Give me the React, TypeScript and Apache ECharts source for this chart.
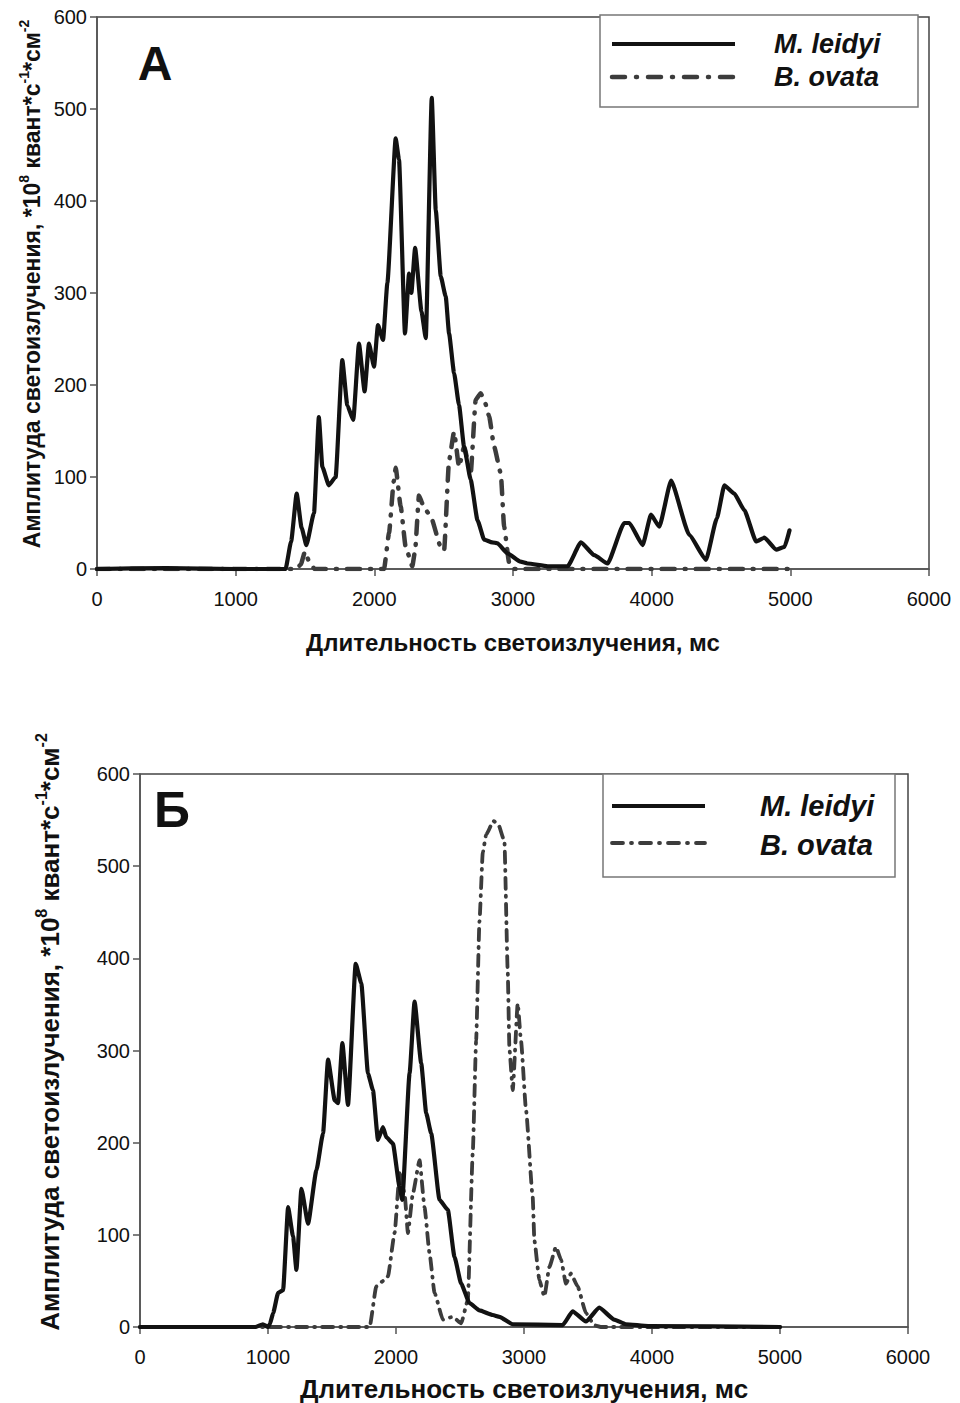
import React, { useEffect, useRef } from "react";
import * as echarts from "echarts";

const FONT = "'Liberation Sans', Arial, sans-serif";

const seriesNames = ["M. leidyi", "B. ovata"];
const panelLabels = ["А", "Б"];
const xTitle = "Длительность светоизлучения, мс";

// Panel A (top)
const topLeidyiX = [0, 500, 1000, 1360, 1400, 1440, 1475, 1510, 1565, 1600, 1625, 1672, 1721, 1769, 1805, 1848, 1889, 1930, 1961, 1998, 2026, 2063, 2094, 2154, 2178, 2221, 2250, 2267, 2294, 2340, 2371, 2414, 2443, 2479, 2515, 2539, 2575, 2611, 2647, 2695, 2744, 2792, 2850, 2888, 2960, 3054, 3105, 3250, 3394, 3490, 3586, 3682, 3802, 3839, 3935, 3995, 4055, 4140, 4271, 4392, 4470, 4524, 4596, 4668, 4753, 4813, 4898, 4958, 4994];
const topLeidyiY = [0, 1, 0, 0, 30, 82, 45, 26, 61, 165, 111, 91, 100, 227, 178, 162, 245, 193, 245, 220, 265, 249, 311, 468, 445, 256, 321, 300, 349, 280, 251, 512, 390, 318, 296, 256, 213, 178, 133, 97, 53, 32, 29, 28, 17, 8, 6, 3, 3, 29, 15, 6, 50, 50, 26, 59, 46, 96, 37, 10, 55, 91, 82, 64, 30, 34, 21, 24, 42];

const topOvataX = [0, 1440, 1470, 1500, 1530, 1570, 2070, 2106, 2140, 2154, 2190, 2226, 2274, 2294, 2322, 2350, 2371, 2407, 2479, 2503, 2539, 2575, 2611, 2647, 2695, 2731, 2767, 2800, 2828, 2864, 2912, 2936, 2972, 3000, 5000];
const topOvataY = [0, 0, 5, 19, 8, 0, 0, 39, 95, 110, 68, 24, 3, 20, 80, 70, 64, 57, 24, 20, 118, 149, 111, 133, 104, 184, 191, 180, 166, 133, 104, 46, 7, 0, 0];

// Panel Б (bottom)
const botLeidyiX = [0, 900, 960, 1000, 1014, 1040, 1079, 1118, 1157, 1196, 1222, 1261, 1313, 1378, 1430, 1469, 1521, 1547, 1581, 1625, 1685, 1729, 1781, 1820, 1859, 1898, 1924, 1976, 2028, 2049, 2106, 2145, 2197, 2236, 2275, 2340, 2405, 2457, 2509, 2574, 2652, 2756, 2808, 2912, 3302, 3380, 3484, 3588, 3705, 3796, 3970, 5000];
const botLeidyiY = [0, 0, 3, 0, 3, 15, 37, 40, 130, 98, 62, 150, 112, 170, 210, 290, 246, 243, 308, 241, 394, 373, 275, 257, 203, 217, 206, 199, 152, 138, 275, 353, 286, 232, 210, 138, 127, 76, 47, 26, 18, 13, 11, 3, 2, 17, 6, 21, 8, 3, 1, 0];

const botOvataX = [0, 1794, 1846, 1900, 1937, 1989, 2028, 2067, 2093, 2132, 2184, 2223, 2262, 2301, 2366, 2444, 2509, 2561, 2600, 2626, 2652, 2678, 2704, 2761, 2800, 2847, 2873, 2886, 2912, 2951, 2977, 3016, 3068, 3081, 3120, 3159, 3198, 3250, 3289, 3328, 3367, 3419, 3484, 3549, 3600, 5000];
const botOvataY = [0, 0, 44, 50, 55, 102, 167, 145, 102, 145, 181, 130, 80, 37, 8, 11, 4, 29, 190, 311, 440, 515, 534, 549, 545, 527, 385, 302, 257, 351, 310, 235, 141, 94, 51, 33, 65, 87, 73, 47, 58, 44, 15, 2, 0, 0];

const zip = (xs: number[], ys: number[]) => xs.map((x, i) => [x, ys[i]]);

const SOLID = "#121212";
const DASHC = "#3c3c3c";

function makeAxes(gridIndex: number) {
  const lineStyle = { color: "#555", width: 1.5 };
  const xAxis = {
    type: "value",
    gridIndex,
    min: 0,
    max: 6000,
    interval: 1000,
    axisLine: { show: true, onZero: false, lineStyle },
    axisTick: { show: true, length: 7, lineStyle },
    axisLabel: { margin: 20, fontSize: 20, color: "#111", fontFamily: FONT, formatter: (v: number) => String(v) },
    splitLine: { show: false },
    name: xTitle,
    nameLocation: "middle",
    nameGap: gridIndex === 0 ? 61 : 49,
    nameTextStyle: { fontSize: gridIndex === 0 ? 24 : 26, fontWeight: "bold", color: "#111", fontFamily: FONT },
  };
  const yAxis = {
    type: "value",
    gridIndex,
    min: 0,
    max: 600,
    interval: 100,
    axisLine: { show: true, lineStyle },
    axisTick: { show: true, length: 7, lineStyle },
    axisLabel: { margin: 10, fontSize: 20, color: "#111", fontFamily: FONT },
    splitLine: { show: false },
  };
  return { xAxis, yAxis };
}

function yTitle(x: number, y: number, size: number) {
  const sup = Math.round(size * 0.6);
  return {
    type: "text",
    x,
    y,
    rotation: Math.PI / 2,
    style: {
      text: "{a|Амплитуда светоизлучения, *10}{s|8}{a| квант*с}{s|-1}{a|*см}{s|-2}",
      align: "center",
      verticalAlign: "middle",
      rich: {
        a: { fontSize: size, fontWeight: "bold", fontFamily: FONT, fill: "#111", lineHeight: size + 4, verticalAlign: "bottom" },
        s: { fontSize: sup, fontWeight: "bold", fontFamily: FONT, fill: "#111", lineHeight: sup, verticalAlign: "top" },
      },
    },
  };
}

function legendBox(
  x: number, y: number, w: number, h: number,
  lx1: number, lx2: number, ly1: number, ly2: number,
  tx: number, ty1: number, ty2: number, fs: number,
  dash: number[], dw: number, sw: number
) {
  return [
    { type: "rect", z: 50, shape: { x, y, width: w, height: h }, style: { fill: "#fff", stroke: "#777", lineWidth: 1.5 } },
    { type: "line", z: 51, shape: { x1: lx1, y1: ly1, x2: lx2, y2: ly1 }, style: { stroke: SOLID, lineWidth: sw } },
    { type: "line", z: 51, shape: { x1: lx1, y1: ly2, x2: lx2, y2: ly2 }, style: { stroke: DASHC, lineWidth: dw, lineDash: dash, lineCap: "round" } },
    { type: "text", z: 51, x: tx, y: ty1, style: { text: seriesNames[0], fontSize: fs, fontWeight: "bold", fontStyle: "italic", fontFamily: FONT, fill: "#111", align: "left", verticalAlign: "middle" } },
    { type: "text", z: 51, x: tx, y: ty2, style: { text: seriesNames[1], fontSize: fs, fontWeight: "bold", fontStyle: "italic", fontFamily: FONT, fill: "#111", align: "left", verticalAlign: "middle" } },
  ];
}

export default function App() {
  const ref = useRef<HTMLDivElement>(null);
  useEffect(() => {
    if (!ref.current) return;
    const chart = echarts.init(ref.current, null, { renderer: "svg" });
    const a0 = makeAxes(0);
    const a1 = makeAxes(1);
    const topDash = [13, 10, 1, 10];
    const botDash = [11, 7, 1, 7];
    chart.setOption({
      animation: false,
      backgroundColor: "#fff",
      grid: [
        { left: 97, top: 17, width: 832, height: 552, show: true, borderColor: "#444", borderWidth: 1.5, containLabel: false, outerBoundsMode: "none" },
        { left: 140, top: 774, width: 768, height: 553, show: true, borderColor: "#444", borderWidth: 1.5, containLabel: false, outerBoundsMode: "none" },
      ],
      xAxis: [a0.xAxis, a1.xAxis],
      yAxis: [a0.yAxis, a1.yAxis],
      series: [
        {
          name: seriesNames[0], type: "line", xAxisIndex: 0, yAxisIndex: 0, data: zip(topLeidyiX, topLeidyiY),
          symbol: "none", smooth: 0.15, smoothMonotone: "x",
          lineStyle: { color: SOLID, width: 4.2, join: "round", cap: "round" }, z: 3,
        },
        {
          name: seriesNames[1], type: "line", xAxisIndex: 0, yAxisIndex: 0, data: zip(topOvataX, topOvataY),
          symbol: "none", smooth: 0.15, smoothMonotone: "x",
          lineStyle: { color: DASHC, width: 4.5, type: topDash, cap: "round", join: "round" }, z: 2,
        },
        {
          name: seriesNames[0], type: "line", xAxisIndex: 1, yAxisIndex: 1, data: zip(botLeidyiX, botLeidyiY),
          symbol: "none", smooth: 0.15, smoothMonotone: "x",
          lineStyle: { color: SOLID, width: 4.2, join: "round", cap: "round" }, z: 3,
        },
        {
          name: seriesNames[1], type: "line", xAxisIndex: 1, yAxisIndex: 1, data: zip(botOvataX, botOvataY),
          symbol: "none", smooth: 0.15, smoothMonotone: "x",
          lineStyle: { color: DASHC, width: 3.8, type: botDash, cap: "round", join: "round" }, z: 2,
        },
      ],
      graphic: [
        { type: "text", x: 155, y: 63, style: { text: panelLabels[0], fontSize: 48, fontWeight: "bold", fontFamily: FONT, fill: "#111", align: "center", verticalAlign: "middle" } },
        { type: "text", x: 172, y: 810, style: { text: panelLabels[1], fontSize: 50, fontWeight: "bold", fontFamily: FONT, fill: "#111", align: "center", verticalAlign: "middle" } },
        ...legendBox(600, 15, 318, 92, 612, 735, 44, 77, 774, 44, 77, 27, [13, 11, 1, 11], 4.5, 4),
        ...legendBox(603, 774, 292, 103, 612, 705, 806, 843, 760, 806, 845, 29, [11, 8, 1, 8], 3.8, 4),
        yTitle(30, 284, 23),
        yTitle(48, 1032, 26),
      ],
    });
    return () => chart.dispose();
  }, []);
  return <div ref={ref} style={{ position: "absolute", left: 0, top: 0, width: 960, height: 1403 }} />;
}
